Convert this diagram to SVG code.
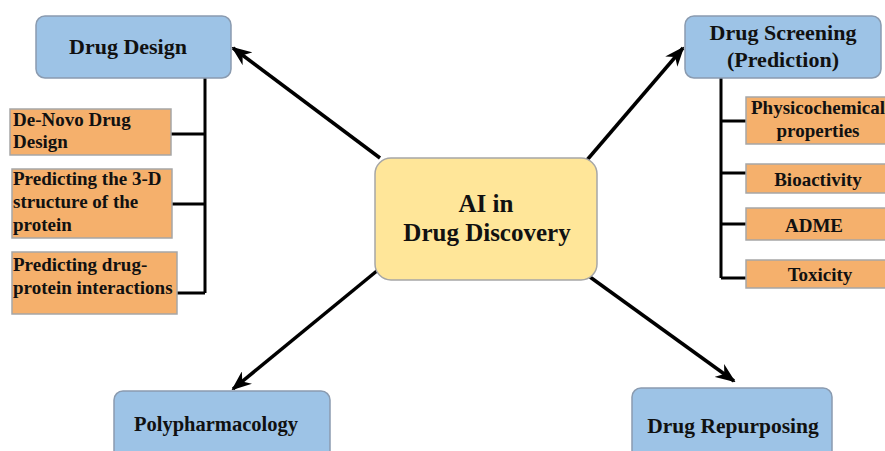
<svg xmlns="http://www.w3.org/2000/svg" width="885" height="451" viewBox="0 0 885 451">
<style>
.blue{fill:#9DC3E6;stroke:#8A9BB0;stroke-width:1.5}
.orange{fill:#F5B06C;stroke:#A6A6A6;stroke-width:1.5}
.yellow{fill:#FFE699;stroke:#A6A6A6;stroke-width:1.5}
text{font-family:"Liberation Serif","Times New Roman",serif;font-weight:bold;fill:#111}
.t22{font-size:22px;text-anchor:middle}
.t19{font-size:19px}
.c{text-anchor:middle}
.br{fill:none;stroke:#000;stroke-width:3}
.arr{fill:none;stroke:#000;stroke-width:3.5;marker-end:url(#ah)}
</style>
<defs>
<marker id="ah" viewBox="0 0 20 16" refX="18" refY="8" markerWidth="20" markerHeight="16" markerUnits="userSpaceOnUse" orient="auto">
<path d="M0,0 L20,8 L0,16 L6,8 Z" fill="#000"/>
</marker>
</defs>
<rect x="0" y="0" width="885" height="451" fill="#fff"/>
<g id="connectors">
<line class="arr" x1="380" y1="158" x2="233" y2="48"/>
<line class="arr" x1="587" y1="160" x2="683" y2="48"/>
<line class="arr" x1="378" y1="270" x2="233" y2="389"/>
<line class="arr" x1="590" y1="277" x2="734" y2="381"/>
<path class="br" d="M205,78 V293 M171,134 H205 M172,204 H205 M177,293 H205"/>
<path class="br" d="M721,78 V278 M721,121 H746 M721,173 H746 M721,224 H746 M721,278 H746"/>
</g>
<g id="center">
<rect class="yellow" x="375" y="158" width="222" height="122" rx="16"/>
<text x="486" y="212" class="c" font-size="25">AI in</text>
<text x="487" y="241" class="c" font-size="25">Drug Discovery</text>
</g>
<g id="drug-design">
<rect class="blue" x="36" y="16" width="195" height="62" rx="9"/>
<text x="128" y="54" class="t22">Drug Design</text>
</g>
<g id="de-novo">
<rect class="orange" x="10" y="109" width="161" height="46"/>
<text x="13" y="126" class="t19">De-Novo Drug</text>
<text x="13" y="148" class="t19">Design</text>
</g>
<g id="predict-3d">
<rect class="orange" x="12" y="169" width="160" height="69"/>
<text x="13" y="185" class="t19">Predicting the 3-D</text>
<text x="13" y="208" class="t19">structure of the</text>
<text x="13" y="231" class="t19">protein</text>
</g>
<g id="predict-dpi">
<rect class="orange" x="12" y="252" width="165" height="62"/>
<text x="13" y="271" class="t19">Predicting drug-</text>
<text x="13" y="294" class="t19">protein interactions</text>
</g>
<g id="drug-screening">
<rect class="blue" x="685" y="16" width="196" height="62" rx="9"/>
<text x="783" y="40" class="t22">Drug Screening</text>
<text x="783" y="67" class="t22">(Prediction)</text>
</g>
<g id="physico">
<rect class="orange" x="746" y="97" width="146" height="47"/>
<text x="818" y="114" class="t19 c">Physicochemical</text>
<text x="818" y="137" class="t19 c">properties</text>
</g>
<g id="bioactivity">
<rect class="orange" x="746" y="164" width="146" height="29"/>
<text x="818" y="186" class="t19 c">Bioactivity</text>
</g>
<g id="adme">
<rect class="orange" x="746" y="208" width="146" height="32"/>
<text x="814" y="232" class="t19 c">ADME</text>
</g>
<g id="toxicity">
<rect class="orange" x="746" y="260" width="146" height="28"/>
<text x="820" y="281" class="t19 c">Toxicity</text>
</g>
<g id="polypharmacology">
<rect class="blue" x="114" y="391" width="216" height="75" rx="9"/>
<text x="216" y="431" class="c" font-size="20.5">Polypharmacology</text>
</g>
<g id="drug-repurposing">
<rect class="blue" x="632" y="388" width="200" height="75" rx="9"/>
<text x="733" y="433" class="c" font-size="21.5">Drug Repurposing</text>
</g>
</svg>
